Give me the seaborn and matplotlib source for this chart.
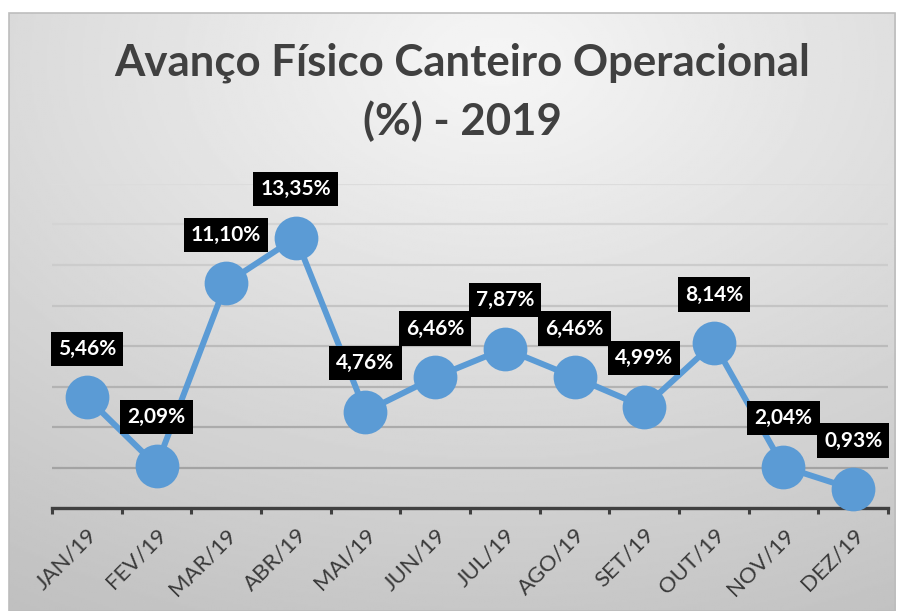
import numpy as np
import pandas as pd
import matplotlib
matplotlib.use("Agg")
import matplotlib.pyplot as plt
import matplotlib.patches as mpatches
import matplotlib.transforms as mtransforms
import seaborn as sns

# Data
months = ["JAN/19", "FEV/19", "MAR/19", "ABR/19", "MAI/19", "JUN/19",
          "JUL/19", "AGO/19", "SET/19", "OUT/19", "NOV/19", "DEZ/19"]
values = [5.46, 2.09, 11.10, 13.35, 4.76, 6.46, 7.87, 6.46, 4.99, 8.14, 2.04, 0.93]
value_labels = ["5,46%", "2,09%", "11,10%", "13,35%", "4,76%", "6,46%",
                "7,87%", "6,46%", "4,99%", "8,14%", "2,04%", "0,93%"]
title_line1 = "Avanço Físico Canteiro Operacional"
title_line2 = "(%) - 2019"

sns.set_style("white")
plt.rcParams['font.family'] = ['Lato', 'DejaVu Sans']

W, H = 902, 611
fig = plt.figure(figsize=(W / 100, H / 100), dpi=100)
fig.patch.set_facecolor('white')

# chart frame with radial gray gradient
fx0, fx1, fy0 = 9, 895, 13
bg = fig.add_axes([fx0 / W, 0, (fx1 - fx0) / W, (H - fy0) / H])
yy, xx = np.mgrid[0:1:300j, 0:1:450j]
r = np.sqrt((xx - 0.55) ** 2 + (yy - 0.08) ** 2)
img = 0.965 - 0.2 * np.clip(r, 0, 1.2)
bg.imshow(img, cmap='gray', vmin=0, vmax=1, aspect='auto', extent=[0, 1, 0, 1])
bg.set_axis_off()
bg.add_patch(mpatches.Rectangle((0, 0), 1, 1, transform=bg.transAxes, fill=False,
                                ec='#bdbdbd', lw=1.2, clip_on=False))

# plot area
ax = fig.add_axes([52 / W, (H - 508) / H, (888 - 52) / W, (508 - 184) / H])
ax.set_facecolor('none')
df = pd.DataFrame({'month': months, 'value': values})
sns.lineplot(data=df, x='month', y='value', ax=ax, sort=False, color='#5B9BD5',
             lw=4.3, marker='o', markersize=31.5, markeredgewidth=0, clip_on=False, zorder=3)

ax.set_xlim(-0.5, 11.5)
ax.set_ylim(0, 16)
ax.set_yticks(np.arange(2, 17, 2))
ax.tick_params(axis='y', length=0, labelleft=False)
ax.grid(axis='y', lw=1.6)
grid_cols = sns.blend_palette(['#a3a3a3', '#dcdcdc'], 8)
for gl, c in zip(ax.get_ygridlines(), grid_cols):
    gl.set_color(c)
ax.set_axisbelow(True)
for s in ['top', 'left', 'right']:
    ax.spines[s].set_visible(False)
ax.spines['bottom'].set_color('#404040')
ax.spines['bottom'].set_linewidth(2.4)

ax.set_xticks(range(len(months)))
ax.set_xticklabels(months, rotation=45, ha='right', va='center',
                   rotation_mode='anchor', fontsize=16, color='#3a3a3a')
ax.set_xticks(np.arange(-0.5, 12, 1), minor=True)
ax.tick_params(axis='x', which='both', bottom=True)
ax.tick_params(axis='x', which='major', length=0, pad=17)
ax.tick_params(axis='x', which='minor', length=4, width=2.2, color='#404040', direction='out')
shift = mtransforms.ScaledTranslation(7 / 100, 0, fig.dpi_scale_trans)
for lab in ax.get_xticklabels():
    lab.set_transform(lab.get_transform() + shift)
ax.set_xlabel('')
ax.set_ylabel('')

for i, (v, t) in enumerate(zip(values, value_labels)):
    ax.annotate(t, (i, v), xytext=(0, 35), textcoords='offset points',
                ha='center', va='center', color='white', fontweight='bold', fontsize=15,
                bbox=dict(boxstyle='square,pad=0.34', fc='black', ec='none'),
                zorder=5, annotation_clip=False)

fig.text(462 / W, 1 - 63 / H, title_line1, ha='center', va='center',
         fontsize=31.5, fontweight='bold', color='#404040')
fig.text(462 / W, 1 - 121 / H, title_line2, ha='center', va='center',
         fontsize=31.5, fontweight='bold', color='#404040')

fig.savefig('out.png', dpi=100)
